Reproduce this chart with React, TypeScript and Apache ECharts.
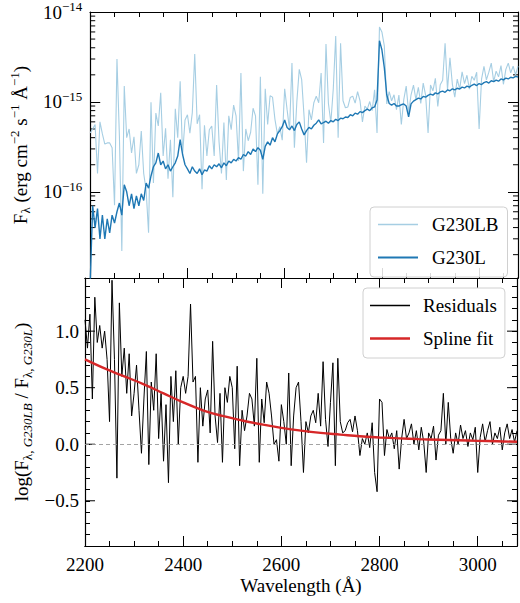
import React, { useEffect, useRef } from 'react';
import * as echarts from 'echarts';

// ---- data (wavelength grid in Å) ----
const WAVE_START = 2200;
const WAVE_STEP = 5;
const X_MIN = 2200;
const X_MAX = 3080;
const FLUX_UNIT = 1e-16; // flux arrays are in units of 1e-16 erg cm^-2 s^-1 Å^-1

const FLUX_G230L = [
  0.1, 0.7, 0.4, 0.65, 0.3, 0.55, 0.3, 0.5, 0.35, 0.55, 0.45, 0.6, 0.75, 0.55, 1.2, 1.0, 0.7, 0.95, 0.65, 0.9,
  0.7, 0.95, 0.8, 1.25, 1.1, 1.5, 1.9, 2.1, 2.7, 2.0, 2.2, 1.8, 2.0, 1.7, 1.9, 2.1, 2.5, 3.8, 2.6, 2.0,
  1.8, 1.6, 1.9, 1.7, 1.6, 1.8, 1.55, 1.75, 1.7, 1.95, 1.8, 2.0, 1.9, 2.05, 1.85, 2.1, 1.95, 2.2, 2.1, 2.3,
  2.2, 2.4, 2.3, 2.6, 2.5, 2.8, 2.6, 3.0, 2.8, 3.1, 2.9, 2.3, 3.2, 3.6, 3.3, 4.0, 3.6, 4.4, 4.8, 5.3,
  6.3, 5.2, 4.9, 5.4, 4.8, 5.6, 6.0, 5.0, 4.3, 4.8, 5.2, 5.0, 5.5, 5.8, 6.3, 5.7, 5.9, 6.1, 5.8, 6.2,
  6.0, 6.4, 6.2, 6.6, 6.5, 6.8, 6.7, 7.2, 7.0, 7.5, 7.3, 7.8, 7.6, 8.0, 8.3, 8.0, 8.6, 8.8, 10.5, 48,
  38, 24, 12, 9.6, 9.2, 9.6, 9.0, 9.0, 9.3, 9.5, 9.0, 6.8, 9.5, 10.2, 10.6, 11.0, 10.8, 11.5, 11.3, 11.8,
  12.2, 11.9, 12.6, 12.3, 12.9, 13.2, 12.8, 13.6, 13.3, 14.0, 13.6, 14.2, 13.9, 14.6, 14.3, 15.0, 14.6, 15.3, 15.8, 15.2,
  16.0, 15.6, 16.4, 16.8, 16.2, 17.2, 16.8, 17.5, 17.0, 18.0, 17.6, 18.4, 18.0, 18.8, 18.5, 19.2, 18.9,
];

const FLUX_G230LB = [
  4.5, 5.0, 5.6, 1.6, 6.0, 4.4, 3.4, 3.5, 3.5, 3.1, 0.71, 30, 4.2, 0.22, 15, 4.0, 5.0, 2.7, 4.1, 1.6,
  2.0, 4.75, 1.6, 1.04, 0.35, 9.9, 1.25, 7.5, 5.4, 12.6, 2.5, 5.1, 1.4, 3.8, 0.87, 8.4, 4.0, 17, 2.6, 6.3,
  7.2, 4.5, 7.6, 34, 5.7, 7.2, 1.07, 5.5, 2.5, 4.9, 5.4, 2.5, 15.4, 3.6, 1.6, 5.9, 1.35, 7.0, 4.9, 9.2,
  7.0, 2.2, 21, 1.7, 5.0, 3.7, 4.6, 8.5, 7.0, 1.2, 19, 0.95, 14, 5.6, 11.7, 11.3, 6.4, 4.4, 5.3, 3.75,
  14, 8.2, 4.9, 27, 3.1, 10, 23, 17.7, 6.8, 2.1, 8.2, 6.3, 9.8, 11.6, 9.8, 21, 3.5, 44, 9.6, 5.9,
  14, 54, 4.0, 45, 10.3, 8.6, 8.8, 11.2, 11.6, 9.7, 13, 10.3, 6.0, 9.0, 8.3, 10.1, 8.0, 13.6, 4.5, 68,
  60, 42, 9.5, 13, 10.3, 12, 8.2, 11.9, 5.6, 10.6, 15, 7.6, 12, 15.4, 10.6, 14.5, 9.6, 16.2, 11.8, 4.5,
  15.4, 13.3, 18.3, 8.9, 15.5, 17.4, 45, 13.6, 31, 15.7, 11.3, 17.9, 13.9, 21.6, 16, 19.8, 13.9, 19.3, 17.4, 21.4,
  5.0, 17.9, 24.8, 17.6, 21.4, 27, 16.8, 22, 19, 25.4, 15.7, 23, 27, 21, 25, 20, 25,
];

const RESIDUALS = [
  1.1, 0.85, 1.15, 0.4, 1.3, 0.9, 1.05, 0.85, 1.0, 0.75, 0.2, 1.45, 0.75, -0.3, 1.25, 0.6, 0.85, 0.45, 0.8, 0.25,
  0.45, 0.7, 0.3, -0.08, 0.4, 0.82, -0.18, 0.55, 0.3, 0.8, 0.05, 0.45, -0.15, 0.35, -0.34, 0.6, 0.2, 0.65, 0.0, 0.5,
  0.6, 0.45, 0.6, 1.24, 0.55, 0.6, -0.16, 0.5, 0.16, 0.4, 0.48, 0.1, 0.91, 0.25, 0.015, 0.45, -0.16, 0.5, 0.37, 0.6,
  0.5, -0.04, 0.69, -0.19, 0.3, 0.12, 0.25, 0.45, 0.4, 0.16, 0.76, -0.16, 0.4, 0.19, 0.55, 0.45, 0.25, 0.0, 0.04, -0.15,
  0.35, 0.2, 0.0, 0.63, -0.19, 0.25, 0.5, 0.55, 0.2, -0.25, 0.2, 0.1, 0.25, 0.3, 0.19, 0.45, 0.16, 0.73, 0.22, -0.02,
  0.37, 0.72, -0.19, 0.76, 0.2, 0.1, 0.12, 0.19, 0.22, 0.11, 0.25, 0.12, -0.1, 0.05, 0.0, 0.1, -0.03, 0.19, -0.25, -0.42,
  0.4, 0.37, -0.1, 0.13, 0.05, 0.1, -0.04, 0.12, -0.22, 0.05, 0.22, 0.05, 0.1, 0.18, 0.0, 0.12, -0.05, 0.15, 0.02, -0.25,
  0.1, 0.05, 0.16, -0.14, 0.08, 0.12, 0.45, 0.0, 0.37, 0.05, -0.08, 0.1, 0.0, 0.17, 0.05, 0.12, -0.02, 0.1, 0.04, 0.15,
  -0.25, 0.06, 0.18, 0.02, 0.12, 0.2, 0.0, 0.1, 0.05, 0.15, -0.05, 0.1, 0.18, 0.05, 0.13, 0.02, 0.12,
];

const SPLINE_WAVE = [2200, 2240, 2280, 2320, 2360, 2400, 2440, 2480, 2520, 2560, 2600, 2640, 2680, 2720, 2760, 2800, 2840, 2880, 2920, 2960, 3000, 3040, 3080];
const SPLINE_FIT = [0.75, 0.67, 0.6, 0.53, 0.45, 0.37, 0.3, 0.25, 0.21, 0.175, 0.145, 0.12, 0.1, 0.085, 0.07, 0.06, 0.052, 0.045, 0.04, 0.035, 0.03, 0.026, 0.022];

const LOG_MIN = 1.1e-17;
const LOG_MAX = 1e-14;
const RES_MIN = -0.9;
const RES_MAX = 1.47;
const RES_MAJOR_TICKS = [-0.5, 0, 0.5, 1.0];
const LOG_DECADES = [1e-17, 1e-16, 1e-15];
const LOG_MINOR_MULTS = [2, 3, 4, 5, 6, 7, 8, 9];

const FONT = "'Liberation Serif', 'Times New Roman', serif";
const C_LB = '#a6cee3';
const C_L = '#1f78b4';
const C_RED = '#d62728';

const MAJOR = 10;
const MINOR = 5;

const wave = (i: number) => WAVE_START + i * WAVE_STEP;
const lineIcon = (h: number) => 'path://M0,0H40V' + h + 'H0Z';

function xAx(gridIndex: number, position: string, interval: number, len: number, extra: any = {}) {
  return {
    type: 'value', gridIndex, position, min: X_MIN, max: X_MAX, interval,
    axisLine: { show: true, onZero: false, lineStyle: { color: '#000', width: 1.2 } },
    axisTick: { show: true, inside: true, length: len, lineStyle: { color: '#000', width: 1 } },
    axisLabel: { show: false },
    splitLine: { show: false },
    ...extra,
  };
}

export default function App() {
  const ref = useRef<HTMLDivElement>(null);
  useEffect(() => {
    if (!ref.current) return;
    const chart = echarts.init(ref.current, undefined, { renderer: 'svg' });

    const lbData = FLUX_G230LB.map((v, i) => [wave(i), v * FLUX_UNIT]);
    const lData = FLUX_G230L.map((v, i) => [wave(i), v * FLUX_UNIT]);
    const resData = RESIDUALS.map((v, i) => [wave(i), v]);
    const splData = SPLINE_FIT.map((v, i) => [SPLINE_WAVE[i], v]);
    const minorLog: number[][] = [];
    LOG_DECADES.forEach((d) => LOG_MINOR_MULTS.forEach((m) => minorLog.push([X_MIN, m * d])));
    const majorRes = RES_MAJOR_TICKS.map((v) => [X_MIN, v]);

    const tickRender = (len: number) => (params: any, api: any) => {
      const y = api.coord([X_MIN, api.value(1)])[1];
      const cs = params.coordSys;
      const st = { stroke: '#000', lineWidth: 1 };
      return {
        type: 'group',
        children: [
          { type: 'line', shape: { x1: cs.x, y1: y, x2: cs.x + len, y2: y }, style: st },
          { type: 'line', shape: { x1: cs.x + cs.width, y1: y, x2: cs.x + cs.width - len, y2: y }, style: st },
        ],
      };
    };

    const baseText = { fontFamily: FONT, color: '#000' };
    const nameRich = {
      a: { ...baseText, fontSize: 19, lineHeight: 24 },
      sup: { ...baseText, fontSize: 13, lineHeight: 13, verticalAlign: 'top' },
      sub: { ...baseText, fontSize: 13, lineHeight: 13, verticalAlign: 'bottom' },
      subi: { ...baseText, fontSize: 13, lineHeight: 13, verticalAlign: 'bottom', fontStyle: 'italic' },
    };

    const legendCommon = {
      orient: 'vertical', symbolKeepAspect: true,
      itemWidth: 40, itemHeight: 14, itemGap: 14,
      backgroundColor: 'rgba(255,255,255,0.85)', borderColor: '#d0d0d0', borderWidth: 1, borderRadius: 4,
    };

    const option: any = {
      animation: false,
      backgroundColor: '#fff',
      textStyle: { fontFamily: FONT },
      grid: [
        { left: 85, top: 9, width: 433, height: 269 },
        { left: 85, top: 278, width: 433, height: 268 },
      ],
      legend: [
        {
          ...legendCommon,
          data: [
            { name: 'G230LB', icon: lineIcon(1.5) },
            { name: 'G230L', icon: lineIcon(2) },
          ],
          left: 370, top: 207,
          padding: [8, 9, 10, 8],
          textStyle: { ...baseText, fontSize: 19, padding: [0, 0, 0, 9] },
        },
        {
          ...legendCommon,
          data: [
            { name: 'Residuals', icon: lineIcon(1.3) },
            { name: 'Spline fit', icon: lineIcon(2.6) },
          ],
          left: 363, top: 288,
          padding: [8, 8, 10, 7],
          textStyle: { ...baseText, fontSize: 19, padding: [0, 0, 0, 8] },
        },
      ],
      xAxis: [
        xAx(0, 'bottom', 50, MINOR),
        xAx(0, 'bottom', 200, MAJOR),
        xAx(0, 'top', 50, MINOR),
        xAx(0, 'top', 200, MAJOR),
        xAx(1, 'bottom', 50, MINOR, {
          axisLabel: {
            show: true, margin: 9, ...baseText, fontSize: 19,
            formatter: (v: number) => (Math.abs(v / 200 - Math.round(v / 200)) < 1e-6 ? String(Math.round(v)) : ''),
          },
          name: 'Wavelength (Å)', nameLocation: 'middle', nameGap: 30,
          nameTextStyle: { ...baseText, fontSize: 19 },
        }),
        xAx(1, 'bottom', 200, MAJOR),
        xAx(1, 'top', 50, MINOR),
        xAx(1, 'top', 200, MAJOR),
      ],
      yAxis: [
        {
          type: 'log', logBase: 10, gridIndex: 0, position: 'left', min: LOG_MIN, max: LOG_MAX,
          axisLine: { show: true, onZero: false, lineStyle: { color: '#000', width: 1.2 } },
          axisTick: { show: true, inside: true, length: MAJOR, lineStyle: { color: '#000', width: 1 } },
          splitLine: { show: false },
          axisLabel: {
            show: true, margin: 8,
            formatter: (v: number) => {
              const e = Math.round(Math.log10(v));
              const p = Math.pow(10, e);
              if (Math.abs(v - p) / p > 1e-6) return '';
              return '{b|10}{s|' + (e < 0 ? '\u2212' : '') + Math.abs(e) + '}';
            },
            rich: {
              b: { ...baseText, fontSize: 19, lineHeight: 24 },
              s: { ...baseText, fontSize: 13, lineHeight: 13, verticalAlign: 'top' },
            },
          },
          name: '{a|F}{sub|\u03bb}{a| (erg cm}{sup|\u22122}{a| s}{sup|\u22121}{a| \u00c5}{sup|\u22121}{a|)}',
          nameLocation: 'middle', nameGap: 56, nameRotate: 90,
          nameTextStyle: { ...baseText, fontSize: 19, rich: nameRich },
        },
        {
          type: 'log', logBase: 10, gridIndex: 0, position: 'right', min: LOG_MIN, max: LOG_MAX,
          axisLine: { show: true, onZero: false, lineStyle: { color: '#000', width: 1.2 } },
          axisTick: { show: true, inside: true, length: MAJOR, lineStyle: { color: '#000', width: 1 } },
          splitLine: { show: false },
          axisLabel: { show: false },
        },
        {
          type: 'value', gridIndex: 1, position: 'left', min: RES_MIN, max: RES_MAX, interval: 0.1,
          axisLine: { show: true, onZero: false, lineStyle: { color: '#000', width: 1.2 } },
          axisTick: { show: true, inside: true, length: MINOR, lineStyle: { color: '#000', width: 1 } },
          splitLine: { show: false },
          axisLabel: {
            show: true, margin: 6, ...baseText, fontSize: 19,
            showMinLabel: false, showMaxLabel: false,
            formatter: (v: number) => {
              if (Math.abs(v * 2 - Math.round(v * 2)) > 1e-6) return '';
              if (Math.abs(v) < 1e-9) return '0.0';
              return (v < 0 ? '\u2212' : '') + Math.abs(v).toFixed(1);
            },
          },
          name: '{a|log(F}{sub|\u03bb, }{subi|G230LB}{a| / F}{sub|\u03bb, }{subi|G230L}{a|)}',
          nameLocation: 'middle', nameGap: 48, nameRotate: 90,
          nameTextStyle: { ...baseText, fontSize: 19, rich: nameRich },
        },
        {
          type: 'value', gridIndex: 1, position: 'right', min: RES_MIN, max: RES_MAX, interval: 0.1,
          axisLine: { show: true, onZero: false, lineStyle: { color: '#000', width: 1.2 } },
          axisTick: { show: true, inside: true, length: MINOR, lineStyle: { color: '#000', width: 1 } },
          splitLine: { show: false },
          axisLabel: { show: false },
        },
      ],
      series: [
        {
          name: 'G230LB', type: 'line', xAxisIndex: 0, yAxisIndex: 0, data: lbData,
          symbol: 'none', lineStyle: { color: C_LB, width: 1.1 }, itemStyle: { color: C_LB }, clip: true,
        },
        {
          name: 'G230L', type: 'line', xAxisIndex: 0, yAxisIndex: 0, data: lData,
          symbol: 'none', lineStyle: { color: C_L, width: 1.4 }, itemStyle: { color: C_L }, clip: true,
        },
        {
          name: 'Residuals', type: 'line', xAxisIndex: 4, yAxisIndex: 2, data: resData,
          symbol: 'none', lineStyle: { color: '#000', width: 1 }, itemStyle: { color: '#000' }, clip: true,
          markLine: {
            silent: true, symbol: 'none', label: { show: false },
            lineStyle: { color: '#999', width: 0.9, type: [4, 3] },
            data: [{ yAxis: 0 }],
          },
        },
        {
          name: 'Spline fit', type: 'line', xAxisIndex: 4, yAxisIndex: 2, data: splData, smooth: 0.4,
          symbol: 'none', lineStyle: { color: C_RED, width: 2.4 }, itemStyle: { color: C_RED }, clip: true,
        },
        {
          type: 'custom', xAxisIndex: 0, yAxisIndex: 0, data: minorLog, silent: true,
          renderItem: tickRender(MINOR),
        },
        {
          type: 'custom', xAxisIndex: 4, yAxisIndex: 2, data: majorRes, silent: true,
          renderItem: tickRender(MAJOR),
        },
      ],
    };
    chart.setOption(option);
    return () => chart.dispose();
  }, []);
  return <div ref={ref} style={{ position: 'fixed', left: 0, top: 0, width: 520, height: 603 }} />;
}
